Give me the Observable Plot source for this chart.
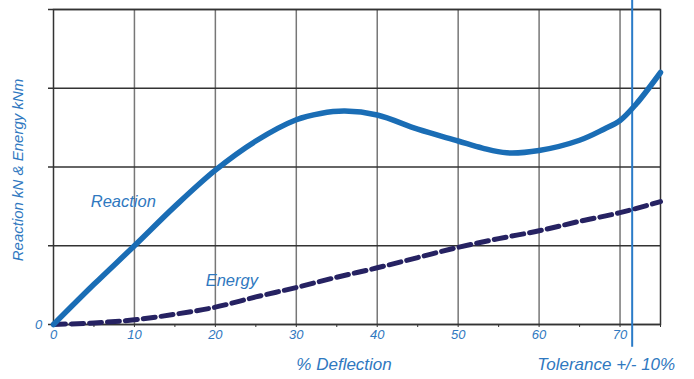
<!DOCTYPE html>
<html><head><meta charset="utf-8">
<script src="https://cdn.jsdelivr.net/npm/d3@7"></script>
<script src="https://cdn.jsdelivr.net/npm/@observablehq/plot@0.6"></script>
<style>body{margin:0;background:#fff} svg{display:block}</style>
</head><body><div id="chart"></div>
<script>
const reactionX = [0, 5, 10, 15, 20, 25, 30, 33, 36, 40, 45, 50, 53, 56, 60, 65, 68, 70, 72, 75];
const reaction  = [0, 0.51, 1.0, 1.5, 1.96, 2.33, 2.60, 2.68, 2.71, 2.66, 2.48, 2.33, 2.24, 2.18, 2.21, 2.34, 2.48, 2.59, 2.80, 3.20];
const energyX = [0, 5, 10, 15, 20, 25, 30, 35, 40, 45, 50, 55, 60, 65, 70, 75];
const energy  = [0, 0.02, 0.06, 0.13, 0.22, 0.35, 0.47, 0.60, 0.72, 0.85, 0.98, 1.09, 1.19, 1.31, 1.42, 1.56];
const xTicks = [0, 10, 20, 30, 40, 50, 60, 70];
const xMinorTicks = [0, 5, 10, 15, 20, 25, 30, 35, 40, 45, 50, 55, 60, 65, 70, 75];
const yTicks = [0, 1, 2, 3, 4];
const yLabelTicks = [0];
const tolerance = [71.5];
const seriesNames = ["Reaction", "Energy"];
const xTitle = "% Deflection";
const toleranceTitle = "Tolerance +/- 10%";
const yTitle = "Reaction kN & Energy kNm";

const reactionData = reactionX.map((x, i) => ({x, y: reaction[i]}));
const energyData = energyX.map((x, i) => ({x, y: energy[i]}));

const blue = "#2f78c0";
const chart = Plot.plot({
  width: 694,
  height: 379,
  marginLeft: 53,
  marginRight: 34,
  marginTop: 9,
  marginBottom: 55,
  style: {fontFamily: "'Liberation Sans', Arial, sans-serif", fontStyle: "italic", fontSize: "13px", background: "#fff"},
  x: {domain: [0, 75], axis: null},
  y: {domain: [0, 4], axis: null},
  marks: [
    Plot.ruleX(xTicks.filter(d => d > 0), {stroke: "#777", strokeWidth: 1.5}),
    Plot.ruleY(yTicks, {stroke: "#333", strokeWidth: 1.5}),
    Plot.frame({stroke: "#333", strokeWidth: 1.5}),
    Plot.axisY({ticks: yTicks, tickSize: 5, stroke: "#333", strokeWidth: 1.5, tickFormat: () => "", label: null}),
    Plot.axisX({ticks: xMinorTicks, tickSize: 3, stroke: "#333", strokeWidth: 1, tickFormat: () => "", label: null}),
    Plot.text(xTicks, {x: d => d, frameAnchor: "bottom", dy: 14, text: d => String(d), fill: blue, fontSize: 13}),
    Plot.text(yLabelTicks, {y: d => d, frameAnchor: "left", dx: -15, textAnchor: "middle", text: d => String(d), fill: blue, fontSize: 13}),
    Plot.ruleX(tolerance, {y1: -0.29, y2: 4.12, stroke: "#2a7bc8", strokeWidth: 2, clip: false}),
    Plot.line(energyData, {x: "x", y: "y", curve: "catmull-rom", stroke: "#262262", strokeWidth: 5, strokeDasharray: "12,6"}),
    Plot.line(reactionData, {x: "x", y: "y", curve: "catmull-rom", stroke: "#1a6db5", strokeWidth: 5.5, strokeLinecap: "round"}),
    Plot.text([seriesNames[0]], {x: 4.6, y: 1.56, text: d => d, textAnchor: "start", fill: blue, fontSize: 16.5}),
    Plot.text([seriesNames[1]], {x: 18.8, y: 0.56, text: d => d, textAnchor: "start", fill: blue, fontSize: 16.5}),
    Plot.text([xTitle], {x: 35.9, frameAnchor: "bottom", dy: 45, text: d => d, fill: blue, fontSize: 17}),
    Plot.text([toleranceTitle], {x: 68.3, frameAnchor: "bottom", dy: 45, text: d => d, fill: blue, fontSize: 17}),
    Plot.text([yTitle], {frameAnchor: "left", textAnchor: "middle", dx: -35, dy: 3, rotate: -90, text: d => d, fill: blue, fontSize: 15})
  ]
});
document.getElementById("chart").append(chart);
</script>
</body></html>
